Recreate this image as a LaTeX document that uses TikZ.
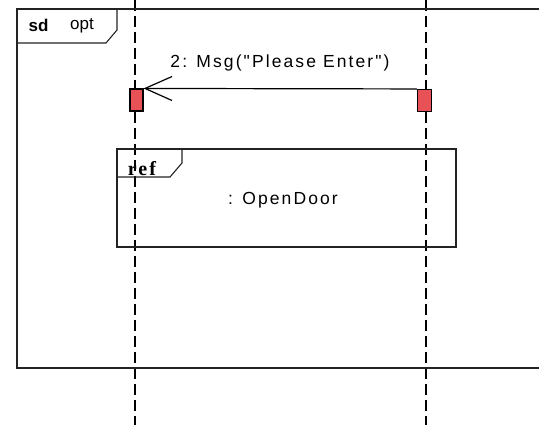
\documentclass[tikz,border=0pt]{standalone}
\usepackage{fontspec}
\setmainfont{Liberation Sans}
\newfontfamily\labfont[LetterSpace=12]{Liberation Sans}
\newfontfamily\reffont[LetterSpace=10]{Liberation Serif}
\usetikzlibrary{arrows.meta}
\definecolor{actfill}{RGB}{232,82,86}
\definecolor{framecol}{RGB}{35,35,35}
\tikzset{
  frameline/.style={draw=framecol, line width=1.3pt},
  lifeline/.style={draw=black, line width=1.4pt, dash pattern=on 11pt off 5pt},
  actbox/.style={draw=black, fill=actfill, line width=1.1pt, minimum width=13pt, minimum height=22pt, inner sep=0pt},
  lab/.style={font=\labfont\fontsize{17.5pt}{20pt}\selectfont, inner sep=0pt},
}
\begin{document}
\begin{tikzpicture}[x=1pt,y=-1pt]
\useasboundingbox (0,0) rectangle (539,425);
% lifelines
\coordinate (l1top) at (135,0);
\coordinate (l1bot) at (135,425);
\coordinate (l2top) at (426,0);
\coordinate (l2bot) at (426,425);
\draw[lifeline] (l1top) -- (l1bot);
\draw[lifeline] (l2top) -- (l2bot);
% outer frame
\coordinate (fbl) at (17,368);
\coordinate (ftl) at (17,9);
\coordinate (ftr) at (539,9);
\coordinate (fbr) at (539,368);
\draw[frameline] (ftr) -- (ftl) -- (fbl) -- (fbr);
\coordinate (p1) at (17,43);
\coordinate (p2) at (106,43);
\coordinate (p3) at (117,30);
\coordinate (p4) at (117,9);
\draw[frameline, line width=1.1pt] (p1) -- (p2) -- (p3) -- (p4);
\node[font=\bfseries\fontsize{17pt}{19pt}\selectfont, inner sep=0pt] (sd) at (38.5,25) {sd};
\node[inner sep=0pt, font=\fontsize{17pt}{19pt}\selectfont] (opt) at (82,26) {opt};
% activations
\node[actbox] (a1) at (136.5,100) {};
\node[actbox, minimum width=14pt] (a2) at (424.5,100.5) {};
% message
\draw[black, line width=1.2pt, -{Straight Barb[length=27pt, width=24pt]}] (a2.north west) -- (a1.north east);
\node[lab] (msg) at (280,63) {2: Msg("Please Enter")};
% ref frame
\node[frameline, line width=1.1pt, minimum width=339pt, minimum height=98pt, inner sep=0pt] (ref) at (286.5,198) {};
\coordinate (r1) at (117,177);
\coordinate (r2) at (170,177);
\coordinate (r3) at (182,163);
\coordinate (r4) at (182,149);
\draw[frameline, line width=1.1pt] (r1) -- (r2) -- (r3) -- (r4);
\node[font=\reffont\bfseries\fontsize{20pt}{22pt}\selectfont, inner sep=0pt, anchor=base] (reflab) at (142,176) {ref};
\node[lab] (od) at (283,200) {: OpenDoor};
\end{tikzpicture}
\end{document}
